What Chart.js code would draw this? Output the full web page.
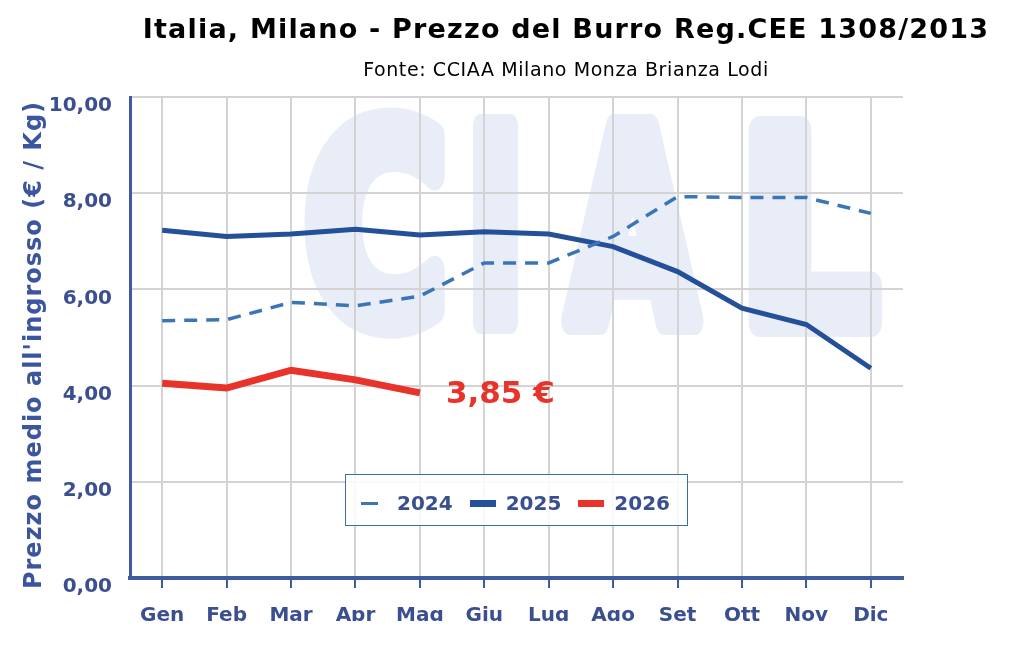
<!DOCTYPE html>
<html>
<head>
<meta charset="utf-8">
<script src="https://cdn.jsdelivr.net/npm/chart.js@4.4.1/dist/chart.umd.min.js"></script>
<style>
  body { margin: 0; background: #fff; }
  #wrap { position: relative; width: 1024px; height: 621px; overflow: hidden; }
  #legend {
    position: absolute; left: 345px; top: 474px; width: 343px; height: 52px;
    box-sizing: border-box; padding: 6px 0 0 15px;
    border: 1.5px solid #3a6ea5; background: rgba(255,255,255,0.85);
    display: flex; align-items: center; justify-content: flex-start;
    font: bold 20px "DejaVu Sans", sans-serif; color: #3a4f8f;
  }
  #legend .item { display: flex; align-items: center; margin-right: 17px; }
  #legend .sym { display: inline-block; }
</style>
</head>
<body>
<div id="wrap">
  <canvas id="chart" width="1024" height="653"></canvas>
  <div id="legend"></div>
</div>
<script>
// mesi
const months = ['Gen', 'Feb', 'Mar', 'Apr', 'Mag', 'Giu', 'Lug', 'Ago', 'Set', 'Ott', 'Nov', 'Dic'];

// prezzi medi (€/Kg)
const prices2024 = [5.35, 5.37, 5.73, 5.66, 5.86, 6.55, 6.55, 7.10, 7.93, 7.91, 7.91, 7.58];
const prices2025 = [7.23, 7.10, 7.15, 7.25, 7.13, 7.20, 7.15, 6.89, 6.37, 5.61, 5.27, 4.36];
const prices2026 = [4.05, 3.95, 4.32, 4.12, 3.85];

const yTicks = [0, 2, 4, 6, 8, 10];

const blueText = '#3a4f8f';
const axisBlue = '#3f5ba0';

const fmt = v => v.toFixed(2).replace('.', ',');

// una lettera del logo CLAL, stirata nel suo riquadro
function logoLetter(ctx, ch, x0, x1, top, bottom, lw) {
    const capH = bottom - top - lw;
    ctx.save();
    ctx.font = 'bold ' + (capH / 0.729) + 'px "DejaVu Sans"';
    const m = ctx.measureText(ch);
    const inkW = m.actualBoundingBoxLeft + m.actualBoundingBoxRight;
    const sx = (x1 - x0 - lw) / inkW;
    ctx.translate(x0 + lw / 2 + m.actualBoundingBoxLeft * sx, bottom - lw / 2);
    ctx.scale(sx, 1);
    ctx.lineWidth = lw;
    ctx.lineJoin = 'round';
    ctx.fillText(ch, 0, 0);
    ctx.strokeText(ch, 0, 0);
    ctx.restore();
}

// titolo, sottotitolo, logo di sfondo ed etichetta ultimo valore
const decor = {
    id: 'decor',
    beforeDraw(chart) {
        const ctx = chart.ctx;
        ctx.save();
        ctx.fillStyle = '#e9edf8';
        ctx.strokeStyle = '#e9edf8';
        logoLetter(ctx, 'C', 300, 449, 111, 335, 28);
        logoLetter(ctx, 'I', 466, 523, 114, 334, 24);
        logoLetter(ctx, 'A', 555, 711, 114, 335, 28);
        logoLetter(ctx, 'L', 743, 888, 116, 337, 28);
        ctx.restore();
    },
    afterDraw(chart) {
        const ctx = chart.ctx;
        ctx.save();
        ctx.textAlign = 'center';
        ctx.textBaseline = 'alphabetic';
        ctx.fillStyle = '#000';
        ctx.font = 'bold 27px "DejaVu Sans"';
        ctx.letterSpacing = '1.2px';
        ctx.fillText('Italia, Milano - Prezzo del Burro Reg.CEE 1308/2013', 566, 38);
        ctx.font = '19px "DejaVu Sans"';
        ctx.letterSpacing = '0.6px';
        ctx.fillText('Fonte: CCIAA Milano Monza Brianza Lodi', 566, 76);

        // titolo asse y
        ctx.save();
        ctx.translate(35, 345);
        ctx.rotate(-Math.PI / 2);
        ctx.textBaseline = 'middle';
        ctx.fillStyle = '#3b55a0';
        ctx.font = 'bold 24px "DejaVu Sans"';
        ctx.letterSpacing = '1px';
        ctx.fillText("Prezzo medio all'ingrosso (€ / Kg)", 0, 0);
        ctx.restore();

        // etichetta sull'ultimo punto del 2026
        const meta = chart.getDatasetMeta(2);
        const last = meta.data[meta.data.length - 1];
        ctx.letterSpacing = '0px';
        ctx.textAlign = 'left';
        ctx.textBaseline = 'middle';
        ctx.fillStyle = '#e8332a';
        ctx.font = 'bold 31px "DejaVu Sans"';
        ctx.fillText(fmt(prices2026[prices2026.length - 1]) + ' €', last.x + 26, last.y + 2);
        ctx.restore();
    }
};

const chart = new Chart(document.getElementById('chart'), {
    type: 'line',
    data: {
        labels: months,
        datasets: [
            {
                label: '2024',
                data: prices2024,
                borderColor: '#3a75b8',
                borderWidth: 3.5,
                borderDash: [13, 9],
                pointRadius: 0,
                fill: false,
            },
            {
                label: '2025',
                data: prices2025,
                borderColor: '#24509a',
                borderWidth: 5,
                pointRadius: 0,
                fill: false,
            },
            {
                label: '2026',
                data: prices2026,
                borderColor: '#e8332a',
                borderWidth: 7,
                pointRadius: 0,
                fill: false,
            },
        ],
    },
    options: {
        responsive: false,
        animation: false,
        layout: { padding: { top: 97, right: 121, left: 0, bottom: 0 } },
        plugins: {
            legend: { display: false },
            title: { display: false },
            tooltip: { enabled: false },
        },
        scales: {
            x: {
                offset: true,
                grid: {
                    offset: false,
                    color: '#d3d3d3',
                    lineWidth: 2,
                    tickColor: axisBlue,
                    tickWidth: 2,
                    tickLength: 10,
                },
                border: { color: axisBlue, width: 4 },
                ticks: {
                    color: blueText,
                    padding: 16,
                    font: { family: 'DejaVu Sans', weight: 'bold', size: 20 },
                },
                afterFit: s => { s.height = 75; },
            },
            y: {
                min: 0,
                max: 10,
                afterBuildTicks: s => { s.ticks = yTicks.map(v => ({ value: v })); },
                grid: { color: '#d3d3d3', lineWidth: 2, drawTicks: false },
                border: { color: axisBlue, width: 3 },
                ticks: {
                    color: blueText,
                    padding: 18,
                    labelOffset: 9,
                    font: { family: 'DejaVu Sans', weight: 'bold', size: 20 },
                    callback: v => fmt(v),
                },
                afterFit: s => { s.width = 130; },
            },
        },
    },
    plugins: [decor],
});

// legenda HTML dentro l'area del grafico
const legend = document.getElementById('legend');
chart.data.datasets.forEach(ds => {
    const item = document.createElement('div');
    item.className = 'item';
    const sym = document.createElement('span');
    sym.className = 'sym';
    sym.style.width = ds.borderDash ? '17px' : '26px';
    sym.style.height = ds.borderDash ? '3px' : '7px';
    sym.style.marginRight = ds.borderDash ? '19px' : '10px';
    sym.style.background = ds.borderColor;
    const txt = document.createElement('span');
    txt.textContent = ds.label;
    item.appendChild(sym);
    item.appendChild(txt);
    legend.appendChild(item);
});
</script>
</body>
</html>
